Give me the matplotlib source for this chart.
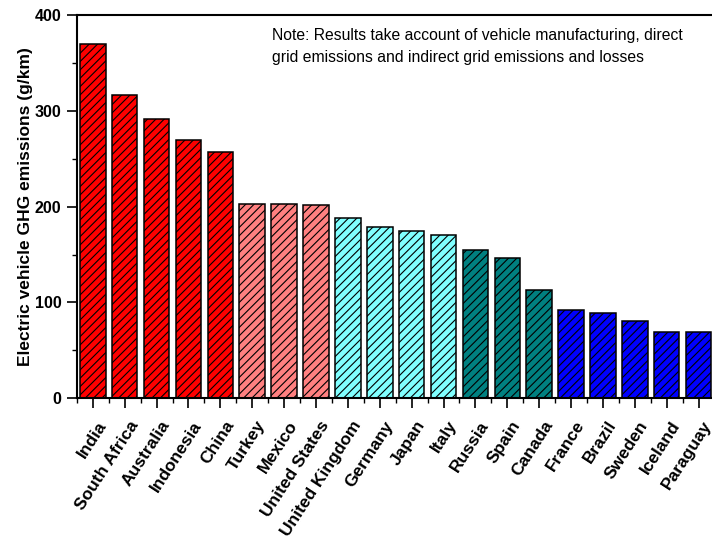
import matplotlib
matplotlib.use("Agg")
import matplotlib.pyplot as plt
from matplotlib.ticker import MultipleLocator, NullFormatter
from matplotlib.transforms import ScaledTranslation

plt.rcParams['font.family'] = ['Liberation Sans', 'DejaVu Sans']
plt.rcParams['hatch.linewidth'] = 0.8

countries = ["India", "South Africa", "Australia", "Indonesia", "China",
             "Turkey", "Mexico", "United States", "United Kingdom", "Germany",
             "Japan", "Italy", "Russia", "Spain", "Canada",
             "France", "Brazil", "Sweden", "Iceland", "Paraguay"]
emissions = [370, 317, 292, 270, 257,
             203, 202.5, 201.5, 188.5, 179,
             174.5, 170, 154.5, 146, 113.5,
             92.5, 88.5, 80.5, 69.5, 69.5]
groups = [0, 0, 0, 0, 0, 1, 1, 1, 2, 2, 2, 2, 3, 3, 3, 4, 4, 4, 4, 4]
group_colors = ["#FF0000", "#FF8080", "#80FFFF", "#008080", "#0000FF"]
note_lines = ["Note: Results take account of vehicle manufacturing, direct",
              "grid emissions and indirect grid emissions and losses"]

W, H = 712, 544
fig = plt.figure(figsize=(W / 100, H / 100), dpi=100)
ax = fig.add_axes([0.108, 0.268, 0.8955, 0.704])

x = list(range(len(countries)))
ax.bar(x, emissions, width=0.8, color=[group_colors[g] for g in groups],
       edgecolor="black", linewidth=1.1, hatch="////")

ax.set_xlim(-0.5, len(countries) - 0.5)
ax.set_ylim(0, 400)
ax.yaxis.set_major_locator(MultipleLocator(100))
ax.yaxis.set_minor_locator(MultipleLocator(50))
ax.set_xticks(x)
ax.set_xticks([i + 0.5 for i in x[:-1]] + [-0.5], minor=True)
ax.xaxis.set_major_formatter(NullFormatter())

# Rotated category names, anchored at their right-hand end below each tick
label_offset = ScaledTranslation(10 / 100, -24 / 100, fig.dpi_scale_trans)
label_trans = ax.get_xaxis_transform() + label_offset
for xi, name in zip(x, countries):
    ax.text(xi, 0, name, transform=label_trans, rotation=57,
            rotation_mode="anchor", ha="right", va="center",
            fontsize=12.5, fontweight="bold", clip_on=False)

for lbl in ax.get_yticklabels():
    lbl.set_fontweight("bold")
ax.tick_params(axis="y", labelsize=11.5, pad=4)
ax.tick_params(which="major", direction="out", length=7, width=1.2)
ax.tick_params(which="minor", direction="out", length=3.5, width=1.0)

for s in ax.spines.values():
    s.set_linewidth(1.5)

ax.set_ylabel("Electric vehicle GHG emissions (g/km)", fontsize=12.5,
              fontweight="bold", labelpad=1.5)

for baseline_px, line in zip([40, 61.7], note_lines):
    fig.text(271.5 / W, 1 - baseline_px / H, line, fontsize=11.3,
             va="baseline", ha="left")

fig.savefig("out.png", dpi=100)
